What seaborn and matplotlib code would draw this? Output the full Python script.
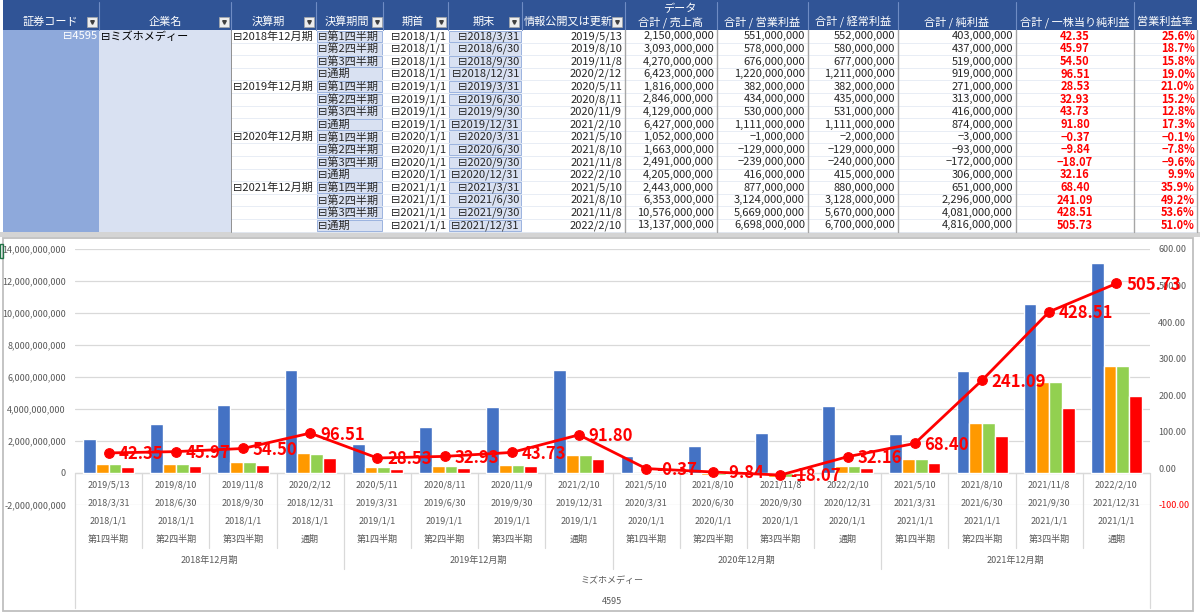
import numpy as np
import pandas as pd
import seaborn as sns
import matplotlib
matplotlib.use('Agg')
from matplotlib import pyplot as plt
from matplotlib.patches import Rectangle
from matplotlib.lines import Line2D
from matplotlib.transforms import blended_transform_factory

# ---- data (values in millions of yen, EPS in yen) ----
code = '4595'
company = 'ミズホメディー'
fiscal_years = ['2018年12月期', '2019年12月期', '2020年12月期', '2021年12月期']
quarters = ['第1四半期', '第2四半期', '第3四半期', '通期'] * 4
period_start = ['2018/1/1'] * 4 + ['2019/1/1'] * 4 + ['2020/1/1'] * 4 + ['2021/1/1'] * 4
period_end = ['2018/3/31', '2018/6/30', '2018/9/30', '2018/12/31',
              '2019/3/31', '2019/6/30', '2019/9/30', '2019/12/31',
              '2020/3/31', '2020/6/30', '2020/9/30', '2020/12/31',
              '2021/3/31', '2021/6/30', '2021/9/30', '2021/12/31']
disclosed = ['2019/5/13', '2019/8/10', '2019/11/8', '2020/2/12',
             '2020/5/11', '2020/8/11', '2020/11/9', '2021/2/10',
             '2021/5/10', '2021/8/10', '2021/11/8', '2022/2/10',
             '2021/5/10', '2021/8/10', '2021/11/8', '2022/2/10']
sales = [2150, 3093, 4270, 6423, 1816, 2846, 4129, 6427,
         1052, 1663, 2491, 4205, 2443, 6353, 10576, 13137]
op_profit = [551, 578, 676, 1220, 382, 434, 530, 1111,
             -1, -129, -239, 416, 877, 3124, 5669, 6698]
ord_profit = [552, 580, 677, 1211, 382, 435, 531, 1111,
              -2, -129, -240, 415, 880, 3128, 5670, 6700]
net_profit = [403, 437, 519, 919, 271, 313, 416, 874,
              -3, -93, -172, 306, 651, 2296, 4081, 4816]
eps = [42.35, 45.97, 54.50, 96.51, 28.53, 32.93, 43.73, 91.80,
       -0.37, -9.84, -18.07, 32.16, 68.40, 241.09, 428.51, 505.73]
op_margin = [25.6, 18.7, 15.8, 19.0, 21.0, 15.2, 12.8, 17.3,
             -0.1, -7.8, -9.6, 9.9, 35.9, 49.2, 53.6, 51.0]

metrics = ['売上高', '営業利益', '経常利益', '純利益']
bar_colors = ['#4472C4', '#FF9900', '#92D050', '#FF0000']

sns.set_style('white')
plt.rcParams['font.family'] = ['Noto Sans CJK JP', 'DejaVu Sans']

fig = plt.figure(figsize=(12, 6.15), dpi=100)
# pixel overlay for the pivot table and chart frame
ov = fig.add_axes([0, 0, 1, 1])
ov.set_xlim(0, 1200)
ov.set_ylim(615, 0)
ov.axis('off')

# ---- pivot table ----
edges = [3, 99, 231, 316, 383, 448, 522, 625, 717, 808, 898, 1016, 1134, 1197]
head_h = 30
row_h = 12.6
n = len(sales)
tab_bottom = head_h + n * row_h
hdr_blue = '#305496'
light = '#D9E1F2'
mid = '#8EA9DB'

ov.add_patch(Rectangle((edges[0], 0), edges[-1] - edges[0], head_h, color=hdr_blue, lw=0))
for x in edges[1:-1]:
    ov.add_line(Line2D([x, x], [2, head_h], color='#6F8CC4', lw=0.8))

headers = ['証券コード', '企業名', '決算期', '決算期間', '期首', '期末', '情報公開又は更新',
           '合計 / 売上高', '合計 / 営業利益', '合計 / 経常利益', '合計 / 純利益',
           '合計 / 一株当り純利益', '営業利益率']
hdr_x = [50, 165, 268, 347, 413, 484, 568, 671, 762, 853, 957, 1075, 1165]
for t, x in zip(headers, hdr_x):
    ov.text(x, 22, t, color='white', fontsize=8, ha='center', va='center')
ov.text(680, 9, 'データ', color='white', fontsize=8, ha='center', va='center')

# filter buttons
for x in [87, 219, 304, 372, 436, 509, 612]:
    ov.add_patch(Rectangle((x, 17), 10, 10, facecolor='#EDEDED', edgecolor='#A6A6A6', lw=0.5))
    ov.plot(x + 5, 22.3, marker='v', ms=2.6, color='#404040')

# data area fills
ov.add_patch(Rectangle((edges[0], head_h), edges[1] - edges[0], n * row_h, color=mid, lw=0))
ov.add_patch(Rectangle((edges[1], head_h), edges[2] - edges[1], n * row_h, color=light, lw=0))
for i in range(n):
    y = head_h + i * row_h
    ov.add_line(Line2D([edges[2], edges[-1]], [y + row_h, y + row_h], color='#E4EAF4', lw=0.6))
    for c in (3, 5):
        ov.add_patch(Rectangle((edges[c] + 1, y + 0.5), edges[c + 1] - edges[c] - 2, row_h - 1,
                               facecolor=light, edgecolor=mid, lw=0.6))
for x in edges[7:-1]:
    ov.add_line(Line2D([x, x], [head_h, tab_bottom], color='#A6A6A6', lw=1.0))
ov.add_line(Line2D([edges[-1], edges[-1]], [head_h, tab_bottom], color='#A6A6A6', lw=1.0))
ov.add_line(Line2D([edges[2], edges[2]], [head_h, tab_bottom], color='#7F7F7F', lw=0.6))


def fmt_num(v):
    return f'{v * 1_000_000:,.0f}'.replace('-', '−')


fs = 8
ov.text(edges[1] - 2, head_h + row_h / 2, '⊟' + code, color='white', fontsize=fs, ha='right', va='center')
ov.text(edges[1] + 2, head_h + row_h / 2, '⊟' + company, color='black', fontsize=fs, ha='left', va='center')
for i in range(n):
    yc = head_h + i * row_h + row_h / 2
    if i % 4 == 0:
        ov.text(edges[2] + 2, yc, '⊟' + fiscal_years[i // 4], fontsize=fs, ha='left', va='center')
    ov.text(edges[3] + 2, yc, '⊟' + quarters[i], fontsize=fs, ha='left', va='center')
    ov.text(edges[5] - 2, yc, '⊟' + period_start[i], fontsize=fs, ha='right', va='center')
    ov.text(edges[6] - 3, yc, '⊟' + period_end[i], fontsize=fs, ha='right', va='center')
    ov.text(edges[7] - 3, yc, disclosed[i], fontsize=fs, ha='right', va='center')
    for c, arr in zip(range(7, 11), [sales, op_profit, ord_profit, net_profit]):
        ov.text(edges[c + 1] - 3, yc, fmt_num(arr[i]), fontsize=fs, ha='right', va='center')
    ov.text((edges[11] + edges[12]) / 2, yc, f'{eps[i]:.2f}'.replace('-', '−'), fontsize=fs,
            ha='center', va='center', color='#FF0000', fontweight='bold')
    ov.text(edges[13] - 2, yc, f'{op_margin[i]:.1f}%'.replace('-', '−'), fontsize=fs,
            ha='right', va='center', color='#FF0000', fontweight='bold')

ov.add_patch(Rectangle((0, tab_bottom), 1200, 5, color='#D4D4D4', lw=0))

# ---- chart ----
ov.add_patch(Rectangle((3, 237.5), 1190, 373, fill=False, edgecolor='#BFBFBF', lw=1.3))
ov.add_patch(Rectangle((0, 244), 2.5, 14, fill=False, edgecolor='#217346', lw=1))

top_px, bot_px, left_px, right_px = 249, 505, 75, 1150
ax = fig.add_axes([left_px / 1200, 1 - bot_px / 615, (right_px - left_px) / 1200,
                   (bot_px - top_px) / 615])
ax.patch.set_visible(False)

df = pd.DataFrame({'pos': np.arange(n)})
for m, arr in zip(metrics, [sales, op_profit, ord_profit, net_profit]):
    df[m] = np.array(arr) * 1_000_000
long = df.melt(id_vars='pos', var_name='metric', value_name='value')
sns.barplot(data=long, x='pos', y='value', hue='metric', hue_order=metrics,
            palette=bar_colors, width=0.76, gap=0, saturation=1, errorbar=None,
            legend=False, ax=ax)
ax.set_xlim(-0.5, n - 0.5)
ax.set_ylim(-2e9, 14e9)
ax.set_yticks(np.arange(-2e9, 14.1e9, 2e9))
ax.set_yticklabels([f'{v:,.0f}' for v in np.arange(-2e9, 14.1e9, 2e9)])
ax.set_xticks([])
ax.set_xlabel('')
ax.set_ylabel('')
ax.yaxis.grid(True, color='#D9D9D9', lw=0.9)
ax.set_axisbelow(True)
ax.tick_params(axis='y', length=0, labelsize=6.5, labelcolor='#595959', pad=6.5)
for s in ax.spines.values():
    s.set_visible(False)

ax2 = ax.twinx()
sns.lineplot(x=np.arange(n), y=eps, ax=ax2, color='#FF0000', lw=2, marker='o',
             markersize=7, markeredgecolor='#FF0000')
ax2.set_ylim(-100, 600)
rt = np.arange(-100, 601, 100)
ax2.set_yticks(rt)
ax2.set_yticklabels([f'{v:.2f}' for v in rt])
ax2.tick_params(axis='y', length=0, labelsize=6.5, labelcolor='#595959', pad=6)
ax2.get_yticklabels()[0].set_color('#FF0000')
for s in ax2.spines.values():
    s.set_visible(False)
for i, v in enumerate(eps):
    ax2.annotate(f'{v:.2f}', (i, v), xytext=(7, -1), textcoords='offset points',
                 ha='left', va='center', color='#FF0000', fontsize=12, fontweight='bold')

# multi-level category axis
trans = blended_transform_factory(ax.transData, ov.transData)
lab = dict(fontsize=6.5, color='#595959', ha='center', va='center', transform=trans)
grid_c = '#D9D9D9'
ov.add_line(Line2D([-0.5, n - 0.5], [473, 473], color=grid_c, lw=0.9, transform=trans))
for i in range(n):
    ov.text(i, 485, disclosed[i], **lab)
    ov.text(i, 503, period_end[i], **lab)
    ov.text(i, 521, period_start[i], **lab)
    ov.text(i, 539, quarters[i], **lab)
for g, fy in enumerate(fiscal_years):
    ov.text(4 * g + 1.5, 560, fy, **lab)
ov.text((n - 1) / 2, 581, company, **lab)
ov.text((n - 1) / 2, 602, code, **lab)
for k in range(n + 1):
    x = k - 0.5
    if k in (0, n):
        y2 = 608
    elif k % 4 == 0:
        y2 = 569
    else:
        y2 = 548
    ov.add_line(Line2D([x, x], [473, y2], color=grid_c, lw=0.9, transform=trans))

fig.savefig('out.png', dpi=100)
